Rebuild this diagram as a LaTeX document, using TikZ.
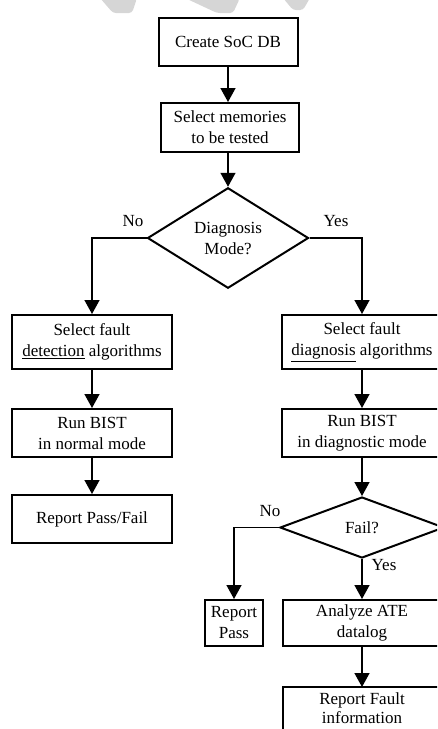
\documentclass[tikz,border=0pt]{standalone}
\usepackage{fontspec}
\setmainfont{Liberation Serif}
\usetikzlibrary{arrows.meta,shapes.geometric}
\begin{document}
\begin{tikzpicture}[x=1pt,y=-1pt,
  box/.style={draw,line width=2pt,rectangle,inner sep=0pt,align=center,
    font=\fontsize{17}{21}\selectfont,minimum height=48pt},
  dec/.style={draw,line width=2pt,diamond,inner sep=0pt,align=center,
    font=\fontsize{17}{21}\selectfont},
  lbl/.style={font=\fontsize{17}{21}\selectfont,inner sep=0pt},
  conn/.style={line width=1.5pt,-{Triangle[width=15pt,length=14pt]}},
  wm/.style={fill=black!16,draw=none}
]
\useasboundingbox (0,0) rectangle (437,729);
\clip (0,0) rectangle (437,729);
% faint watermark remnants at the top edge
\fill[wm,rounded corners=3pt] (100,-2) -- (137,-2) -- (132,13) -- (113,13) -- cycle;
\fill[wm,rounded corners=3pt] (185,-2) -- (240,-2) -- (233,13) -- (217,13) -- cycle;
\fill[wm,rounded corners=3pt] (283,-2) -- (310,-2) -- (303,10) -- (293,10) -- cycle;

\node[box,minimum width=139pt] (create) at (228,41.5) {Create SoC DB};
\node[box,minimum width=138pt,minimum height=49pt] (mem) at (230,127.5) {Select memories\\to be tested};
\node[dec,minimum width=161pt,minimum height=100pt] (mode) at (228,238) {Diagnosis\\Mode?};

\node[box,minimum width=160pt,minimum height=54pt] (det) at (92,342) {Select fault\\\underline{detection} algorithms};
\node[box,minimum width=160pt] (runn) at (92,433) {Run BIST\\in normal mode};
\node[box,minimum width=160pt] (rpf) at (92,519) {Report Pass/Fail};

\node[box,minimum width=160pt,minimum height=54pt] (dia) at (362,342) {Select fault\\\underline{diagnosis} algorithms};
\node[box,minimum width=160pt] (rund) at (362,433) {Run BIST\\in diagnostic mode};
\node[dec,minimum width=164pt,minimum height=61pt] (fail) at (362,527.5) {Fail?};
\node[box,minimum width=58pt,minimum height=46pt] (pass) at (234,623) {Report\\Pass};
\node[box,minimum width=158pt,minimum height=46pt] (ate) at (362,623) {Analyze ATE\\datalog};

% last box runs past the bottom edge of the picture
\coordinate (ftop) at (362,687);
\draw[line width=2pt] (283,745) -- (283,687) -- (441,687) -- (441,745);
\node[inner sep=0pt,align=center,font=\fontsize{17}{19}\selectfont] (fault) at (362,708.5) {Report Fault\\information};

\node[lbl] (no1) at (133,221) {No};
\node[lbl] (yes1) at (336,221) {Yes};
\node[lbl] (no2) at (270,511) {No};
\node[lbl] (yes2) at (384,565) {Yes};

\draw[conn] (create.south) -- (create.south |- mem.north);
\draw[conn] (create.south |- mem.south) -- (mode.north);
\draw[conn] (mode.west) -| (det.north);
\draw[conn] (mode.east) -| (dia.north);
\draw[conn] (det) -- (runn);
\draw[conn] (runn) -- (rpf);
\draw[conn] (dia) -- (rund);
\draw[conn] (rund) -- (fail);
\draw[conn] (fail.west) -| (pass.north);
\draw[conn] (fail) -- (ate);
\draw[conn] (ate) -- (ftop);
\end{tikzpicture}
\end{document}
